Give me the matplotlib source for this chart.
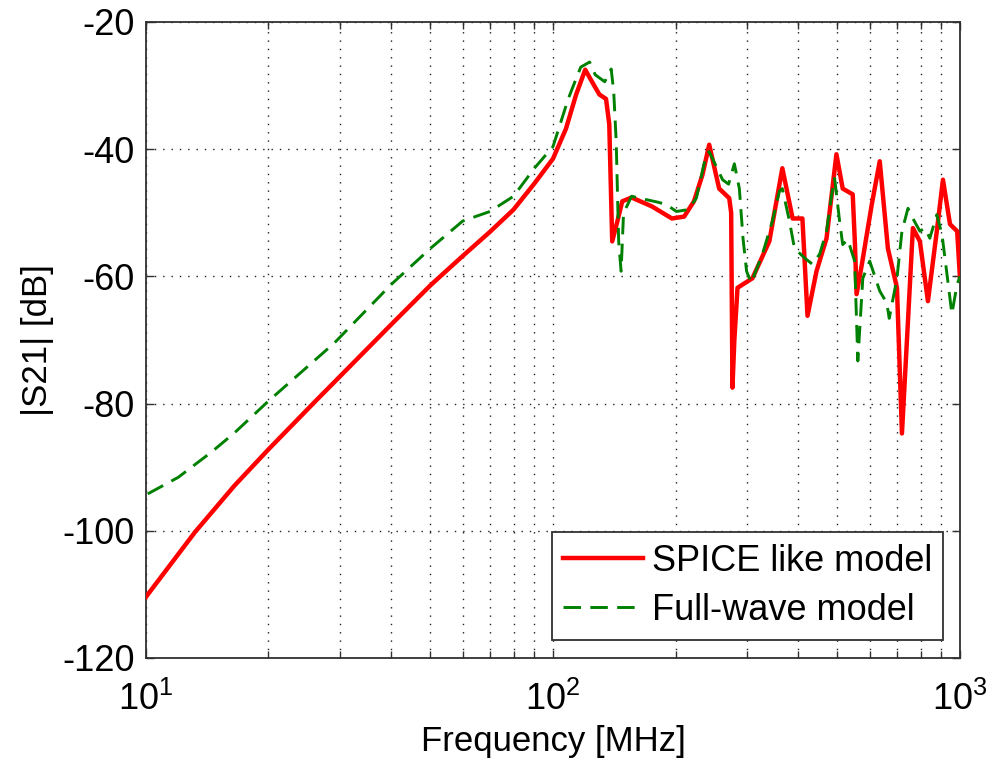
import matplotlib
matplotlib.use('Agg')
import matplotlib.pyplot as plt

plt.rcParams['font.family'] = ['Liberation Sans', 'DejaVu Sans']
plt.rcParams['mathtext.fontset'] = 'custom'
plt.rcParams['mathtext.rm'] = 'Liberation Sans'
plt.rcParams['mathtext.it'] = 'Liberation Sans:italic'
plt.rcParams['mathtext.bf'] = 'Liberation Sans:bold'
plt.rcParams['axes.unicode_minus'] = False

# SPICE like model (frequency in MHz, |S21| in dB)
spice_f = [10, 13.2, 16.5, 20, 26.2, 30, 40, 50, 60, 70, 80, 90, 100,
           107.6, 114, 120, 124.7, 130, 135, 137.5, 139.8, 144, 148, 156, 175,
           196, 210, 222, 233, 242, 256, 271, 274, 276, 279, 284, 309, 340, 366,
           388, 410, 422, 444, 470, 497, 515, 545, 552, 557, 574, 607, 635, 665,
           700, 720, 745, 766, 797, 834, 877, 908, 945, 984, 1000]
spice_db = [-110.4, -100.2, -92.9, -87.2, -79.5, -75.7, -67.6, -61.4, -56.8, -53.0,
            -49.5, -45.4, -41.5, -36.8, -31.4, -27.5, -29.4, -31.4, -32.1, -36.1,
            -54.5, -51.3, -48.2, -47.6, -49, -50.9, -50.6, -48.2, -44, -39.3, -46.2,
            -47.7, -50, -77.5, -70, -61.8, -60.3, -54.5, -43, -50.9, -50.9, -66.2,
            -59.2, -54, -40.8, -46.2, -47.1, -55, -62.8, -58.1, -48.7, -41.9, -55.6,
            -61.8, -84.7, -67, -52.4, -54.5, -63.9, -52.9, -44.8, -51.8, -52.9, -60.3]

# Full-wave model
full_f = [10.1, 12, 14.5, 16.5, 20, 29, 40, 50, 60, 70, 80, 90, 100,
          109, 114, 117, 123, 127, 134, 139, 141, 143, 145, 147, 149, 151, 156, 163,
          180, 190, 201, 215, 225, 238, 242, 261, 270, 279, 287, 293, 299, 307, 327,
          346, 360, 366, 381, 392, 415, 434, 452, 470, 484, 492, 506, 515, 530, 551,
          561, 577, 600, 635, 661, 670, 700, 720, 745, 766, 797, 820, 843, 877, 903,
          927, 955, 984, 1000]
full_db = [-94.2, -91.6, -87.6, -84.6, -79.6, -70.5, -61.3, -55.6, -51.3, -49.8,
           -47.4, -43, -39.6, -32.1, -28.9, -27.1, -26.3, -28.3, -29.4, -27.4, -31,
           -38.8, -54.5, -59.2, -50.3, -49.3, -47.4, -47.7, -48.3, -48.7, -49.8, -49.5,
           -47.7, -40.8, -40.4, -44.8, -45.5, -42.3, -46.2, -54, -59.2, -61, -56.5,
           -51.3, -46.6, -46.2, -51.3, -55.6, -57.1, -58.1, -56.5, -52.9, -47.1, -44.6,
           -51.3, -55, -54.2, -57.6, -73.3, -60.3, -57.6, -62.3, -64.2, -66.6, -60.3,
           -52.9, -49.3, -50.9, -52.9, -52.4, -54, -50.3, -53.4, -59.2, -65.9, -61.2,
           -60]

fig = plt.figure(figsize=(9.97, 7.71), dpi=100)
ax = fig.add_axes([0.1464, 0.1466, 0.8165, 0.8249])

ax.plot(spice_f, spice_db, color='red', lw=3.2, label='SPICE like model', zorder=3)
ax.plot(full_f, full_db, color=(0, 0.5, 0), lw=2.1, dashes=(6, 3.2),
        label='Full-wave model', zorder=4)

ax.set_xscale('log')
ax.set_xlim(10, 1000)
ax.set_ylim(-120, -20)
ax.set_yticks(range(-120, -19, 20))

ax.grid(True, which='major', axis='both', color='#202020', lw=1.0, linestyle=(0, (1, 5)))
ax.grid(True, which='minor', axis='x', color='#202020', lw=1.0, linestyle=(0, (1, 5)))

ax.tick_params(which='both', direction='in', top=True, right=True, labelsize=26,
               width=1, color='#303030')
ax.tick_params(which='major', length=6)
ax.tick_params(which='minor', length=5)
ax.tick_params(axis='y', pad=8)
ax.tick_params(axis='x', pad=17)
for s in ax.spines.values():
    s.set_linewidth(1.3)
    s.set_color('#303030')

ax.set_xlabel('Frequency [MHz]', fontsize=25, labelpad=5)
ax.set_ylabel('|S21| [dB]', fontsize=25, labelpad=6)

leg = ax.legend(loc='upper left', bbox_to_anchor=(0.4982, 0.198), borderaxespad=0,
                fontsize=26, fancybox=False, framealpha=1, edgecolor='#303030',
                handlelength=2.2, handletextpad=0.25, labelspacing=0.4,
                borderpad=0.32)
leg.get_frame().set_linewidth(1.3)

fig.savefig('out.png', dpi=100)
